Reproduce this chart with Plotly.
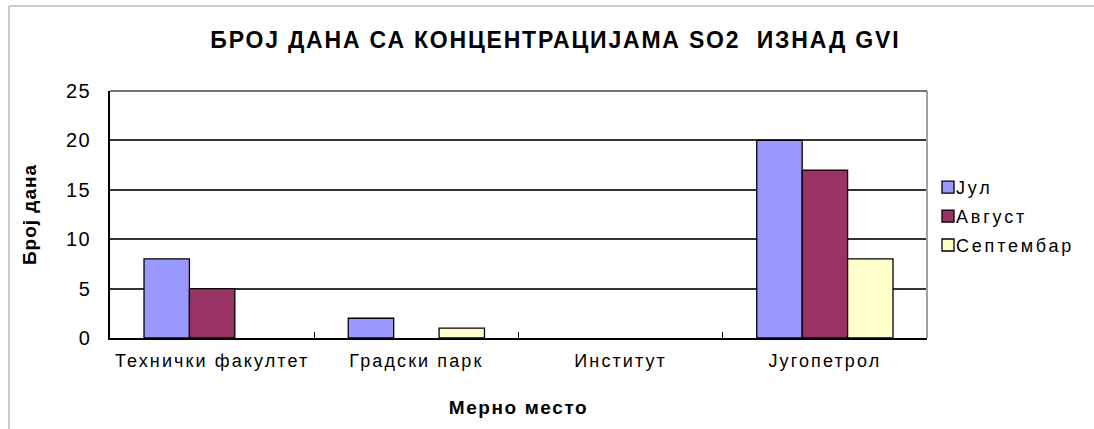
import plotly.graph_objects as go

categories = ["Технички факултет", "Градски парк", "Институт", "Југопетрол"]
series_names = ["Јул", "Август", "Септембар"]
jul = [8, 2, 0, 20]
avgust = [5, 0, 0, 17]
septembar = [0, 1, 0, 8]
colors = ["#9999FF", "#993366", "#FFFFCC"]
y_ticks = [0, 5, 10, 15, 20, 25]

W, H = 1094, 429
L, R, T, B = 110, 167, 91, 91
PW, PH = W - L - R, H - T - B

fig = go.Figure()
for i, (name, vals) in enumerate(zip(series_names, [jul, avgust, septembar])):
    fig.add_trace(go.Bar(
        x=categories, y=[v if v else None for v in vals], name=name, legendgroup=name,
        marker=dict(color=colors[i], line=dict(color="#000000", width=1.3)),
    ))

font_main = "Liberation Sans, Arial, sans-serif"

fig.update_layout(
    width=W, height=H,
    margin=dict(l=L, r=R, t=T, b=B, autoexpand=False),
    paper_bgcolor="white", plot_bgcolor="white",
    barmode="group", bargap=0.333, bargroupgap=0,
    showlegend=True,
    legend=dict(
        x=(916 - L) / PW, xanchor="left",
        y=1 - (169 - T) / PH, yanchor="top",
        font=dict(family=font_main, size=18, color="#000"),
        itemwidth=30, tracegroupgap=2.5, bgcolor="rgba(0,0,0,0)",
    ),
    font=dict(family=font_main, color="#000"),
)

fig.update_xaxes(
    type="category", showgrid=False, showline=True, linecolor="#000", linewidth=1.5,
    ticks="inside", ticklen=6, tickcolor="#000", tickson="boundaries",
    tickfont=dict(family=font_main, size=18, color="#000"),
    ticklabelstandoff=6,
    title=dict(text="<b>Мерно место</b>", font=dict(family=font_main, size=19, color="#000"), standoff=30),
)
fig.update_yaxes(
    range=[0, 25], tickvals=y_ticks, showgrid=True, gridcolor="#333", gridwidth=1.5,
    showline=True, linecolor="#000", linewidth=1.5, zeroline=False,
    ticks="", tickfont=dict(family=font_main, size=20, color="#000"),
    ticklabelstandoff=13,
    title=dict(text="<b>Број дана</b>", font=dict(family=font_main, size=19, color="#000"), standoff=27),
)

# title
fig.add_annotation(
    text="<b>БРОЈ ДАНА СА КОНЦЕНТРАЦИЈАМА SO2  ИЗНАД GVI</b>",
    xref="paper", yref="paper", x=(555 - L) / PW, y=1 + (T - 40) / PH,
    xanchor="center", yanchor="middle", showarrow=False,
    font=dict(family=font_main, size=23, color="#000"),
)

# plot area border (top and right)
fig.add_shape(type="line", xref="paper", yref="paper", x0=1, x1=1, y0=0, y1=1,
              line=dict(color="#A0A0A0", width=2))
fig.add_shape(type="line", xref="paper", yref="paper", x0=0, x1=1, y0=1, y1=1,
              line=dict(color="#444", width=1.5))
# outer chart frame
fx = (9 - L) / PW
fy = 1 + (T - 6) / PH
fig.add_shape(type="line", xref="paper", yref="paper",
              x0=fx, x1=fx, y0=fy, y1=-B / PH,
              line=dict(color="#BBBBBB", width=1.5))
fig.add_shape(type="line", xref="paper", yref="paper",
              x0=fx, x1=(W - L) / PW, y0=fy, y1=fy,
              line=dict(color="#BBBBBB", width=1.5))

post = """
document.body.style.margin = '0';
function sp(sel, v){ document.querySelectorAll(sel).forEach(function(t){ t.style.letterSpacing = v; }); }
sp('.annotation-text', '1.8px');
sp('.xtick text', '2.1px');
sp('.ytick text', '1.5px');
sp('.legendtext', '2.8px');
sp('.xtitle', '1.6px');
sp('.ytitle', '1px');
document.querySelectorAll('.legend [clip-path]').forEach(function(e){ e.removeAttribute('clip-path'); });
document.querySelectorAll('.legend .legendpoints').forEach(function(e){ e.setAttribute('transform', 'translate(12,0)'); });
"""
fig.write_html("out.html", post_script=post, config={"displayModeBar": False})
